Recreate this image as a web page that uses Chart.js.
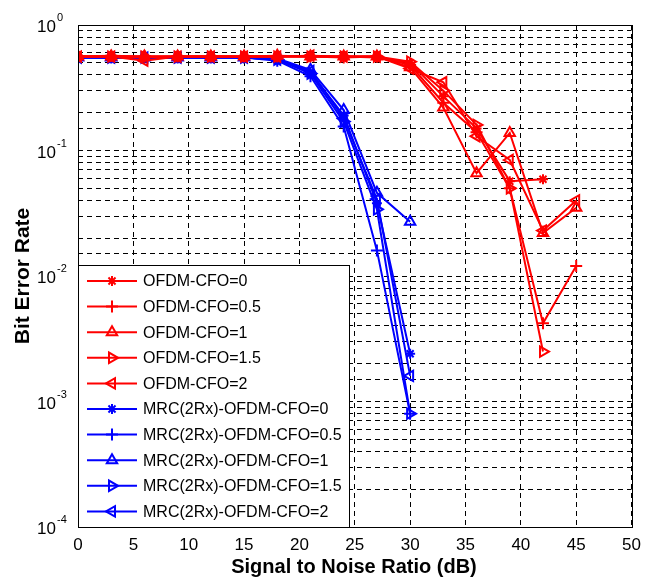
<!DOCTYPE html>
<html>
<head>
<meta charset="utf-8">
<script src="https://cdn.jsdelivr.net/npm/chart.js@4.4.1/dist/chart.umd.min.js"></script>
<style>
  html, body { margin: 0; padding: 0; background: #fff; }
</style>
</head>
<body>
<canvas id="berChart" width="649" height="585"></canvas>
<script>
// SNR points (dB)
const snrOfdm = [0, 3, 6, 9, 12, 15, 18, 21, 24, 27, 30, 33, 36, 39, 42, 45];
const snrMrc = [0, 3, 6, 9, 12, 15, 18, 21, 24, 27, 30];

// OFDM (single antenna) BER
const ofdmCfo0   = [0.56, 0.56, 0.55, 0.56, 0.56, 0.56, 0.56, 0.56, 0.56, 0.55, 0.50, 0.27, 0.15, 0.057, 0.059];
const ofdmCfo05  = [0.56, 0.57, 0.56, 0.56, 0.56, 0.56, 0.56, 0.56, 0.55, 0.56, 0.48, 0.24, 0.14, 0.050, 0.0042, 0.012];
const ofdmCfo1   = [0.56, 0.56, 0.56, 0.56, 0.56, 0.56, 0.57, 0.56, 0.56, 0.56, 0.46, 0.22, 0.066, 0.138, 0.022, 0.035];
const ofdmCfo15  = [0.56, 0.56, 0.56, 0.56, 0.56, 0.56, 0.56, 0.56, 0.56, 0.56, 0.51, 0.30, 0.16, 0.050, 0.0025];
const ofdmCfo2   = [0.56, 0.56, 0.52, 0.56, 0.56, 0.56, 0.56, 0.57, 0.56, 0.56, 0.45, 0.35, 0.13, 0.084, 0.023, 0.040];

// MRC (2 Rx) BER
const mrcCfo0  = [0.55, 0.55, 0.55, 0.55, 0.55, 0.55, 0.53, 0.42, 0.19, 0.038, 0.0024];
const mrcCfo05 = [0.55, 0.55, 0.55, 0.55, 0.55, 0.55, 0.52, 0.39, 0.155, 0.016, 0.0008];
const mrcCfo1  = [0.55, 0.55, 0.55, 0.55, 0.55, 0.55, 0.54, 0.44, 0.21, 0.046, 0.027];
const mrcCfo15 = [0.55, 0.55, 0.55, 0.55, 0.55, 0.55, 0.53, 0.41, 0.17, 0.034, 0.0008];
const mrcCfo2  = [0.55, 0.55, 0.55, 0.55, 0.55, 0.55, 0.53, 0.43, 0.18, 0.041, 0.0016];

const seriesLabels = [
    'OFDM-CFO=0', 'OFDM-CFO=0.5', 'OFDM-CFO=1', 'OFDM-CFO=1.5', 'OFDM-CFO=2',
    'MRC(2Rx)-OFDM-CFO=0', 'MRC(2Rx)-OFDM-CFO=0.5', 'MRC(2Rx)-OFDM-CFO=1',
    'MRC(2Rx)-OFDM-CFO=1.5', 'MRC(2Rx)-OFDM-CFO=2'
];

const xTicks = [0, 5, 10, 15, 20, 25, 30, 35, 40, 45, 50];
const yTicks = [1, 0.1, 0.01, 0.001, 0.0001];
const yTickExp = ['0', '-1', '-2', '-3', '-4'];

const RED = '#ff0000';
const BLUE = '#0000ff';

// marker shapes for CFO = 0, 0.5, 1, 1.5, 2
const markers = [
    { pointStyle: 'star', rotation: 0, radius: 5 },
    { pointStyle: 'cross', rotation: 0, radius: 6 },
    { pointStyle: 'triangle', rotation: 0, radius: 6 },
    { pointStyle: 'triangle', rotation: 90, radius: 6 },
    { pointStyle: 'triangle', rotation: -90, radius: 6 }
];

function toPoints(xs, ys) {
    return ys.map((v, i) => ({ x: xs[i], y: v }));
}

function makeSet(label, xs, ys, color, m) {
    return {
        label: label,
        data: toPoints(xs, ys),
        borderColor: color,
        backgroundColor: 'rgba(0,0,0,0)',
        borderWidth: 2,
        pointStyle: m.pointStyle,
        pointRotation: m.rotation,
        pointRadius: m.radius,
        pointBorderWidth: 2,
        pointBorderColor: color,
        pointBackgroundColor: 'rgba(0,0,0,0)',
        tension: 0,
        fill: false
    };
}

const ofdmSets = [ofdmCfo0, ofdmCfo05, ofdmCfo1, ofdmCfo15, ofdmCfo2];
const mrcSets = [mrcCfo0, mrcCfo05, mrcCfo1, mrcCfo15, mrcCfo2];

const datasets = [];
ofdmSets.forEach((ys, i) => datasets.push(makeSet(seriesLabels[i], snrOfdm, ys, RED, markers[i])));
mrcSets.forEach((ys, i) => datasets.push(makeSet(seriesLabels[i + 5], snrMrc, ys, BLUE, markers[i])));

// frame, y labels, axis titles and the in-plot legend
const decorations = {
    id: 'decorations',
    afterDraw(chart) {
        const ctx = chart.ctx;
        const area = chart.chartArea;
        const yScale = chart.scales.y;

        ctx.save();
        // plot frame
        ctx.strokeStyle = '#000';
        ctx.lineWidth = 1;
        ctx.setLineDash([]);
        ctx.strokeRect(Math.round(area.left) + 0.5, Math.round(area.top) + 0.5,
            Math.round(area.right - area.left), Math.round(area.bottom - area.top));

        // y tick labels 10^n
        ctx.fillStyle = '#000';
        yTicks.forEach((v, i) => {
            const py = yScale.getPixelForValue(v);
            ctx.font = '17px "Liberation Sans Narrow", "Liberation Sans", Arial, sans-serif';
            ctx.textAlign = 'right';
            ctx.textBaseline = 'alphabetic';
            ctx.fillText('10', 56, py + 7);
            ctx.font = '11px "Liberation Sans Narrow", "Liberation Sans", Arial, sans-serif';
            ctx.textAlign = 'left';
            ctx.fillText(yTickExp[i], 57, py - 4);
        });

        // axis titles
        ctx.font = 'bold 20px "Liberation Sans", Arial, sans-serif';
        ctx.textAlign = 'center';
        ctx.textBaseline = 'middle';
        ctx.fillText('Signal to Noise Ratio (dB)', 354, 567);
        ctx.save();
        ctx.translate(23, 276);
        ctx.rotate(-Math.PI / 2);
        ctx.font = 'bold 21px "Liberation Sans", Arial, sans-serif';
        ctx.fillText('Bit Error Rate', 0, 0);
        ctx.restore();

        // legend box
        const lx = Math.round(area.left) + 0.5;
        const ly = 265.5;
        const lw = 271;
        const lh = Math.round(area.bottom) - 265;
        ctx.fillStyle = '#fff';
        ctx.fillRect(lx, ly, lw, lh);
        ctx.strokeStyle = '#000';
        ctx.strokeRect(lx, ly, lw, lh);

        ctx.font = '16px "Liberation Sans", Arial, sans-serif';
        ctx.textAlign = 'left';
        ctx.textBaseline = 'middle';
        datasets.forEach((ds, i) => {
            const y = 281 + i * 25.6;
            const color = ds.borderColor;
            ctx.strokeStyle = color;
            ctx.fillStyle = 'rgba(0,0,0,0)';
            ctx.lineWidth = 2;
            ctx.beginPath();
            ctx.moveTo(87, y);
            ctx.lineTo(137, y);
            ctx.stroke();
            if (Chart.helpers && Chart.helpers.drawPoint) {
                Chart.helpers.drawPoint(ctx, {
                    pointStyle: ds.pointStyle,
                    rotation: ds.pointRotation,
                    radius: ds.pointRadius,
                    borderWidth: 2
                }, 112, y);
            }
            ctx.fillStyle = '#000';
            ctx.fillText(ds.label, 143, y + 1);
        });
        ctx.restore();
    }
};

const ctx = document.getElementById('berChart').getContext('2d');

new Chart(ctx, {
    type: 'line',
    data: { datasets: datasets },
    options: {
        responsive: false,
        animation: false,
        layout: { padding: { top: 25, right: 17, left: 0, bottom: 0 } },
        plugins: {
            legend: { display: false },
            tooltip: { enabled: false }
        },
        scales: {
            x: {
                type: 'linear',
                min: 0,
                max: 50,
                afterBuildTicks: (scale) => {
                    scale.ticks = xTicks.map(v => ({ value: v }));
                },
                afterFit: (scale) => { scale.height = 58; },
                ticks: {
                    color: '#000',
                    padding: 8,
                    maxRotation: 0,
                    font: { family: '"Liberation Sans Narrow", "Liberation Sans", Arial, sans-serif', size: 17 }
                },
                grid: { color: '#000', lineWidth: 1, drawTicks: false },
                border: { display: false, dash: [5, 4] }
            },
            y: {
                type: 'logarithmic',
                min: 0.0001,
                max: 1,
                afterFit: (scale) => { scale.width = 78; },
                ticks: { display: false },
                grid: { color: '#000', lineWidth: 1, drawTicks: false },
                border: { display: false, dash: [5, 4] }
            }
        }
    },
    plugins: [decorations]
});
</script>
</body>
</html>
